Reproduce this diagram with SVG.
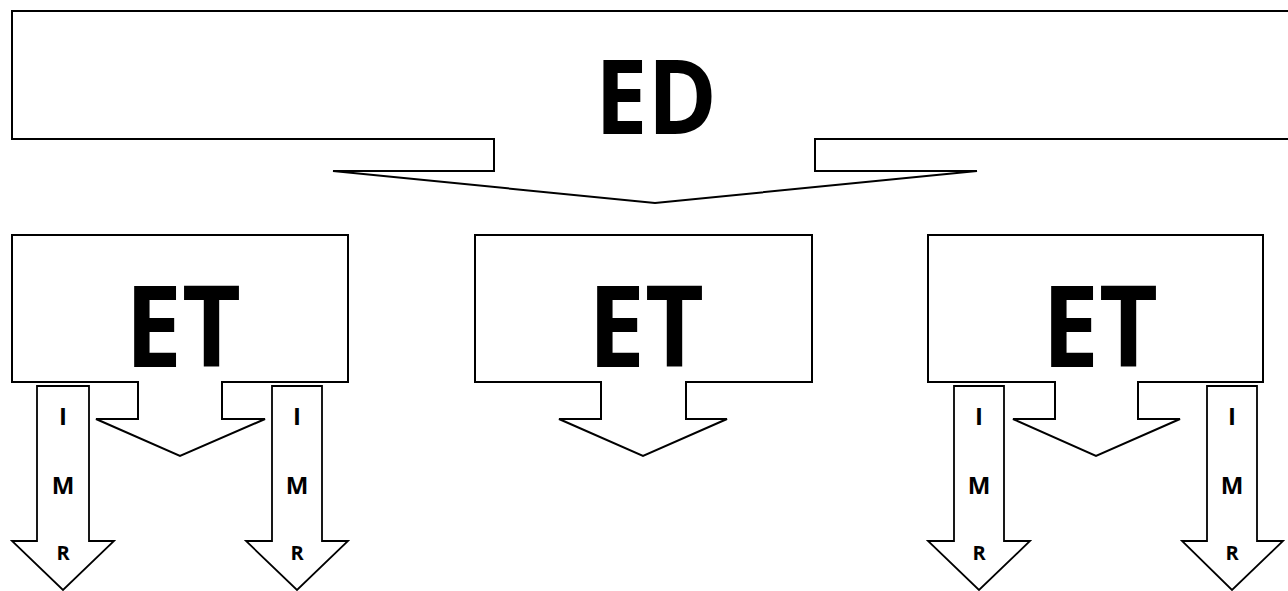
<svg xmlns="http://www.w3.org/2000/svg" width="1288" height="591" viewBox="0 0 1288 591">
<style>
.shape{fill:#fff;stroke:#000;stroke-width:2;stroke-linejoin:miter}
.arr{fill:#fff;stroke:#000;stroke-width:1.8;stroke-linejoin:miter}
.big{font-family:"Open Sans","Liberation Sans",sans-serif;font-weight:bold;fill:#000;text-anchor:middle}
.sm{font-family:"Open Sans","Liberation Sans",sans-serif;font-weight:bold;fill:#000;text-anchor:middle}
.im{font-size:24px}
.r{font-size:20px}
</style>
<rect width="1288" height="591" fill="#fff"/>
<g id="node-ED">
<path class="shape" d="M1300,11 H12 V139 H494 V171 H333 L655,203 L977,171 H815 V139 H1300"/>
<text class="big" x="656" y="134" font-size="104" textLength="122" lengthAdjust="spacingAndGlyphs">ED</text>
</g>
<g id="node-ET-left">
<path class="shape" d="M12,235 H348 V382 H222 V419 H265 L180,456 L96,419 H138 V382 H12 Z"/>
<text class="big" x="183" y="367" font-size="113" textLength="116" lengthAdjust="spacingAndGlyphs">ET</text>
</g>
<g id="node-ET-center">
<path class="shape" d="M475,235 H812 V382 H686 V419 H727 L643,456 L559,419 H601 V382 H475 Z"/>
<text class="big" x="646" y="367" font-size="113" textLength="116" lengthAdjust="spacingAndGlyphs">ET</text>
</g>
<g id="node-ET-right">
<path class="shape" d="M928,235 H1263 V382 H1138 V419 H1180 L1096,456 L1013,419 H1055 V382 H928 Z"/>
<text class="big" x="1100" y="367" font-size="113" textLength="116" lengthAdjust="spacingAndGlyphs">ET</text>
</g>
<g id="node-IMR-1">
<path class="arr" d="M37,386 H89 V541 H114 L63,590 L12,541 H37 Z"/>
<text class="sm im" x="63" y="425">I</text>
<text class="sm im" x="63" y="494">M</text>
<text class="sm r" x="63" y="560">R</text>
</g>
<g id="node-IMR-2">
<path class="arr" d="M272,386 H322 V541 H348 L297,590 L246,541 H272 Z"/>
<text class="sm im" x="297" y="425">I</text>
<text class="sm im" x="297" y="494">M</text>
<text class="sm r" x="297" y="560">R</text>
</g>
<g id="node-IMR-3">
<path class="arr" d="M954,386 H1004 V541 H1030 L979,590 L928,541 H954 Z"/>
<text class="sm im" x="979" y="425">I</text>
<text class="sm im" x="979" y="494">M</text>
<text class="sm r" x="979" y="560">R</text>
</g>
<g id="node-IMR-4">
<path class="arr" d="M1207,386 H1257 V541 H1283 L1232,590 L1182,541 H1207 Z"/>
<text class="sm im" x="1232" y="425">I</text>
<text class="sm im" x="1232" y="494">M</text>
<text class="sm r" x="1232" y="560">R</text>
</g>
<g id="connectors"></g>
</svg>
